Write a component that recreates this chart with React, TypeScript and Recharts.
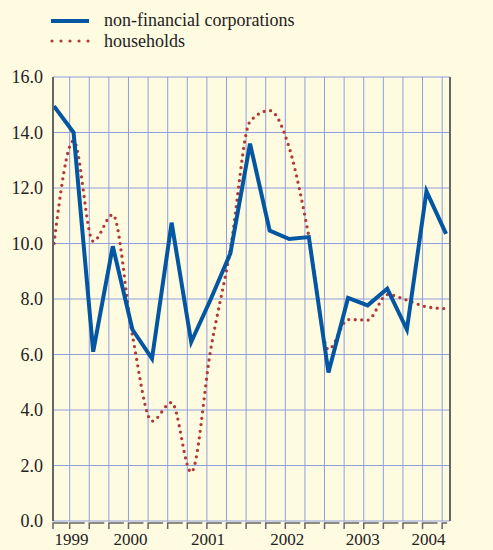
import React from 'react';
import { LineChart, Line, XAxis, YAxis, CartesianGrid } from 'recharts';

// Quarterly observations, 1999 Q1 .. 2004 Q1
const quarters = [
  '1999 Q1', '1999 Q2', '1999 Q3', '1999 Q4',
  '2000 Q1', '2000 Q2', '2000 Q3', '2000 Q4',
  '2001 Q1', '2001 Q2', '2001 Q3', '2001 Q4',
  '2002 Q1', '2002 Q2', '2002 Q3', '2002 Q4',
  '2003 Q1', '2003 Q2', '2003 Q3', '2003 Q4',
  '2004 Q1',
];
const corporations = [14.95, 14.0, 6.1, 9.9, 6.9, 5.85, 10.75, 6.45, 8.0, 9.65, 13.6, 10.47, 10.16, 10.23, 5.35, 8.04, 7.77, 8.37, 6.9, 11.88, 10.35];
const households = [10.0, 13.7, 10.08, 11.04, 6.7, 3.6, 4.27, 1.76, 6.2, 9.8, 14.4, 14.79, 13.45, 10.26, 6.18, 7.26, 7.24, 8.16, 7.96, 7.72, 7.65];

const yTicks = [0, 2, 4, 6, 8, 10, 12, 14, 16];
const yearLabels = ['1999', '2000', '2001', '2002', '2003', '2004'];
const yearPositions = [0.9, 3.9, 7.85, 11.9, 15.75, 19.1];
const gridPositions = [-0.05, ...Array.from({ length: 20 }, (_, k) => k + 0.8)];

const data = quarters.map((q, i) => ({
  i,
  q,
  corporations: corporations[i],
  households: households[i],
}));

const BG = '#fffbe1';
const BLUE = '#0356a2';
const RED = '#b23a36';
const GRID = '#8e9fdc';
const AXIS = '#666666';
const FONT = "'Liberation Serif', 'DejaVu Serif', serif";

const HookTick = ({ x, y, index }: any) => {
  const len = index === gridPositions.length - 1 ? 5 : 15;
  return (
    <path d={`M${x},${y + 8} V${y + 2} H${x + len}`} stroke={AXIS} strokeWidth={1.5} fill="none" />
  );
};

const Legend = () => (
  <svg width={320} height={52} style={{ position: 'absolute', left: 0, top: 0 }}>
    <line x1={51} y1={21} x2={89} y2={21} stroke={BLUE} strokeWidth={4} />
    <line x1={52} y1={41} x2={90} y2={41} stroke={RED} strokeWidth={3.2} strokeDasharray="0 9" strokeLinecap="round" />
    <text x={104} y={26} style={{ fontFamily: FONT, fontSize: 18 }} fill="#222">non-financial corporations</text>
    <text x={104} y={47} style={{ fontFamily: FONT, fontSize: 18 }} fill="#222">households</text>
  </svg>
);

export default function App() {
  const yTickStyle = { fontFamily: FONT, fontSize: 18, fill: '#222' };
  const xTickStyle = { fontFamily: FONT, fontSize: 17, fill: '#222' };
  return (
    <div style={{ position: 'relative', width: 493, height: 550, background: BG, fontFamily: FONT }}>
      <style>{`body{margin:0;background:${BG};}`}</style>
      <Legend />
      <LineChart
        width={493}
        height={550}
        data={data}
        margin={{ top: 77, right: 42, left: 52, bottom: 27 }}
        style={{ fontFamily: FONT }}
      >
        <CartesianGrid stroke={GRID} strokeWidth={1} />
        <XAxis
          dataKey="i"
          type="number"
          domain={[-0.05, 20.2]}
          ticks={gridPositions}
          interval={0}
          height={1}
          axisLine={false}
          tickLine={false}
          tickSize={0}
          tickMargin={0}
          tick={<HookTick />}
        />
        <XAxis
          xAxisId="years"
          dataKey="i"
          type="number"
          domain={[-0.05, 20.2]}
          ticks={yearPositions}
          interval={0}
          height={1}
          axisLine={false}
          tickLine={false}
          tickSize={0}
          tickMargin={11}
          tick={xTickStyle}
          tickFormatter={(v: number) => yearLabels[yearPositions.indexOf(v)]}
        />
        <YAxis
          domain={[0, 16]}
          ticks={yTicks}
          interval={0}
          width={1}
          axisLine={{ stroke: AXIS, strokeWidth: 2 }}
          tickLine={false}
          tickSize={0}
          tickMargin={10}
          tick={yTickStyle}
          tickFormatter={(v: number) => v.toFixed(1)}
        />
        <YAxis
          yAxisId="right"
          orientation="right"
          domain={[0, 16]}
          ticks={yTicks}
          interval={0}
          width={1}
          axisLine={{ stroke: AXIS, strokeWidth: 2 }}
          tickLine={false}
          tickSize={0}
          tickMargin={12}
          tick={yTickStyle}
          tickFormatter={(v: number) => v.toFixed(1)}
        />
        <Line
          type="monotone"
          dataKey="households"
          stroke={RED}
          strokeWidth={3.3}
          strokeDasharray="0 6.5"
          strokeLinecap="round"
          dot={false}
          isAnimationActive={false}
        />
        <Line
          type="linear"
          dataKey="corporations"
          stroke={BLUE}
          strokeWidth={4}
          dot={false}
          isAnimationActive={false}
        />
      </LineChart>
    </div>
  );
}
